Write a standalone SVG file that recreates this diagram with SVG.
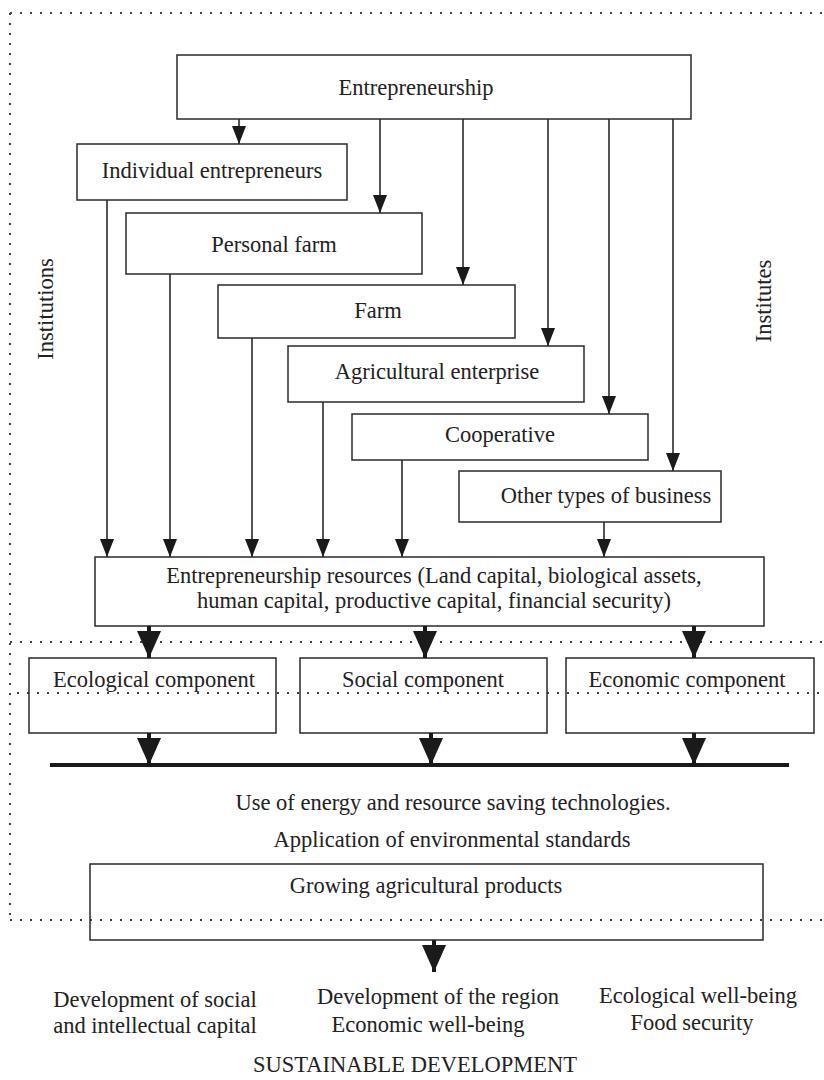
<svg xmlns="http://www.w3.org/2000/svg" width="824" height="1080" viewBox="0 0 824 1080">
<defs>
<style>
.box{fill:none;stroke:#2a2a2a;stroke-width:1.5}
.t{font-family:"Liberation Serif","Times New Roman",serif;font-size:22.5px;fill:#222;text-anchor:middle}
.ln{stroke:#2a2a2a;stroke-width:1.6;fill:none}
.bl{stroke:#1a1a1a;stroke-width:4;fill:none}
.dot{stroke:#444;stroke-width:2;fill:none;stroke-dasharray:2 8}
</style>
<marker id="ah" markerUnits="userSpaceOnUse" markerWidth="18" markerHeight="14" refX="18" refY="7" orient="auto">
<path d="M0,0 L18,7 L0,14 z" fill="#1a1a1a"/>
</marker>
<marker id="bh" markerUnits="userSpaceOnUse" markerWidth="27" markerHeight="24" refX="27" refY="12" orient="auto">
<path d="M0,0 L27,12 L0,24 z" fill="#1a1a1a"/>
</marker>
</defs>
<rect width="824" height="1080" fill="#fff"/>

<g id="frame">
<line class="dot" x1="10" y1="13" x2="824" y2="13"/>
<line class="dot" x1="10" y1="13" x2="10" y2="918"/>
<line class="dot" x1="10" y1="920" x2="824" y2="920"/>
<line class="dot" x1="10" y1="642" x2="824" y2="642"/>
<line class="dot" x1="17" y1="693" x2="824" y2="693"/>
</g>

<g id="labels">
<text class="t" transform="translate(53,309) rotate(-90)">Institutions</text>
<text class="t" transform="translate(771,301) rotate(-90)">Institutes</text>
</g>

<g id="entrepreneurship"><rect class="box" x="177" y="55" width="514" height="64"/><text class="t" x="416" y="95">Entrepreneurship</text></g>
<g id="individual"><rect class="box" x="77" y="144" width="270" height="56"/><text class="t" x="212" y="178">Individual entrepreneurs</text></g>
<g id="personal-farm"><rect class="box" x="126" y="213" width="296" height="61"/><text class="t" x="274" y="252">Personal farm</text></g>
<g id="farm"><rect class="box" x="218" y="285" width="297" height="53"/><text class="t" x="378" y="318">Farm</text></g>
<g id="agri-enterprise"><rect class="box" x="288" y="346" width="296" height="56"/><text class="t" x="437" y="379">Agricultural enterprise</text></g>
<g id="cooperative"><rect class="box" x="352" y="414" width="296" height="46"/><text class="t" x="500" y="442">Cooperative</text></g>
<g id="other-business"><rect class="box" x="459" y="471" width="262" height="51"/><text class="t" x="606" y="503">Other types of business</text></g>
<g id="resources"><rect class="box" x="95" y="557" width="669" height="69"/><text class="t" x="434" y="583">Entrepreneurship resources (Land capital, biological assets,</text><text class="t" x="434" y="608">human capital, productive capital, financial security)</text></g>
<g id="ecological"><rect class="box" x="29" y="658" width="247" height="75"/><text class="t" x="154" y="687">Ecological component</text></g>
<g id="social"><rect class="box" x="300" y="658" width="247" height="75"/><text class="t" x="423" y="687">Social component</text></g>
<g id="economic"><rect class="box" x="566" y="658" width="248" height="75"/><text class="t" x="687" y="687">Economic component</text></g>
<g id="technologies"><text class="t" x="453" y="810">Use of energy and resource saving technologies.</text><text class="t" x="452" y="847">Application of environmental standards</text></g>
<g id="growing"><rect class="box" x="90" y="864" width="673" height="76"/><text class="t" x="426" y="893">Growing agricultural products</text></g>
<g id="outcomes">
<text class="t" x="155" y="1007">Development of social</text>
<text class="t" x="155" y="1033">and intellectual capital</text>
<text class="t" x="438" y="1004">Development of the region</text>
<text class="t" x="428" y="1032">Economic well-being</text>
<text class="t" x="698" y="1003">Ecological well-being</text>
<text class="t" x="692" y="1030">Food security</text>
<text class="t" x="415" y="1072">SUSTAINABLE DEVELOPMENT</text>
</g>

<g id="connectors">
<line class="ln" x1="239" y1="119" x2="239" y2="144" marker-end="url(#ah)"/>
<line class="ln" x1="380" y1="119" x2="380" y2="213" marker-end="url(#ah)"/>
<line class="ln" x1="463" y1="119" x2="463" y2="285" marker-end="url(#ah)"/>
<line class="ln" x1="548" y1="119" x2="548" y2="346" marker-end="url(#ah)"/>
<line class="ln" x1="609" y1="119" x2="609" y2="414" marker-end="url(#ah)"/>
<line class="ln" x1="673" y1="119" x2="673" y2="471" marker-end="url(#ah)"/>
<line class="ln" x1="107" y1="200" x2="107" y2="557" marker-end="url(#ah)"/>
<line class="ln" x1="170" y1="274" x2="170" y2="557" marker-end="url(#ah)"/>
<line class="ln" x1="252" y1="338" x2="252" y2="557" marker-end="url(#ah)"/>
<line class="ln" x1="323" y1="402" x2="323" y2="557" marker-end="url(#ah)"/>
<line class="ln" x1="402" y1="460" x2="402" y2="557" marker-end="url(#ah)"/>
<line class="ln" x1="604" y1="522" x2="604" y2="557" marker-end="url(#ah)"/>
<line class="bl" x1="149" y1="626" x2="149" y2="658" marker-end="url(#bh)"/>
<line class="bl" x1="425" y1="626" x2="425" y2="658" marker-end="url(#bh)"/>
<line class="bl" x1="694" y1="626" x2="694" y2="658" marker-end="url(#bh)"/>
<line class="bl" x1="149" y1="733" x2="149" y2="765" marker-end="url(#bh)"/>
<line class="bl" x1="431" y1="733" x2="431" y2="765" marker-end="url(#bh)"/>
<line class="bl" x1="694" y1="733" x2="694" y2="765" marker-end="url(#bh)"/>
<line x1="50" y1="765" x2="789" y2="765" stroke="#1a1a1a" stroke-width="4"/>
<line class="bl" x1="434" y1="940" x2="434" y2="972" marker-end="url(#bh)"/>
</g>
</svg>
